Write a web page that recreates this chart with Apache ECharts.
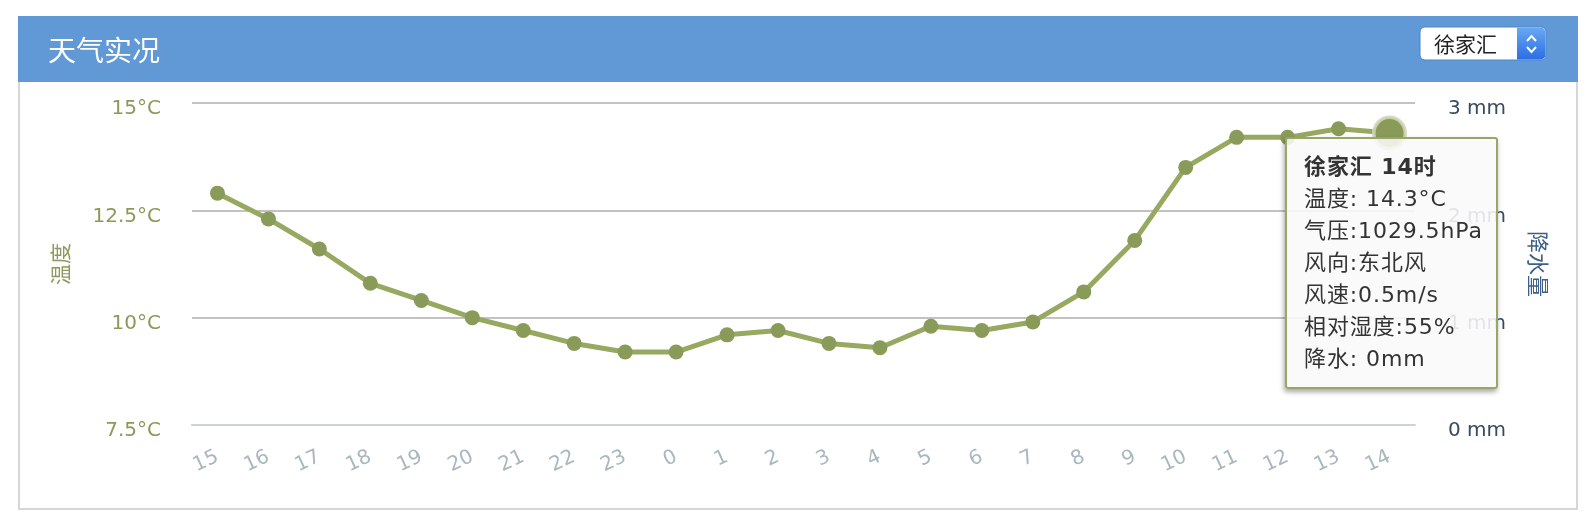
<!DOCTYPE html>
<html>
<head>
<meta charset="utf-8">
<script src="https://cdn.jsdelivr.net/npm/echarts@6/dist/echarts.min.js"></script>
<style>
html,body{margin:0;padding:0;background:#fff;}
#chart{width:1594px;height:526px;}
</style>
</head>
<body>
<div id="chart"></div>
<script>
// ---- data ----
const hours = ['15','16','17','18','19','20','21','22','23','0','1','2','3','4','5','6','7','8','9','10','11','12','13','14'];
const temperature = [12.9,12.3,11.6,10.8,10.4,10.0,9.7,9.4,9.2,9.2,9.6,9.7,9.4,9.3,9.8,9.7,9.9,10.6,11.8,13.5,14.2,14.2,14.4,14.3];
const precipitation = [0,0,0,0,0,0,0,0,0,0,0,0,0,0,0,0,0,0,0,0,0,0,0,0];
const tempTicks = [7.5, 10, 12.5, 15];
const rainTicks = [0, 1, 2, 3];
const station = '徐家汇';
const pageTitle = '天气实况';
// details shown in the tooltip for the last hour (14时)
const lastHourInfo = { pressure: '1029.5hPa', windDir: '东北风', windSpeed: '0.5m/s', humidity: '55%' };

const OLIVE = '#8a9a58';
const FONT = '"DejaVu Sans","Noto Sans CJK SC",sans-serif';

const chart = echarts.init(document.getElementById('chart'));

const fmtTemp = v => '{a|' + (v % 1 === 0 ? v.toFixed(0) : String(v)) + '°C}';

const option = {
  animation: false,
  backgroundColor: '#fff',
  grid: { left: 192, right: 179, top: 103, bottom: 101, containLabel: false },
  tooltip: {
    trigger: 'item',
    triggerOn: 'none',
    alwaysShowContent: true,
    backgroundColor: 'rgba(249,249,249,0.88)',
    borderColor: '#98a668',
    borderWidth: 2,
    borderRadius: 3,
    padding: [12, 13, 12, 17],
    textStyle: { color: '#333', fontSize: 22, fontFamily: FONT },
    extraCssText: 'box-shadow:-1px 3px 5px rgba(0,0,0,0.35);',
    position: function (point) { return [point[0] - 105, point[1] + 4]; },
    formatter: function (p) {
      const i = p.dataIndex;
      const line = s => '<div style="line-height:32px;letter-spacing:0.9px;white-space:nowrap;">' + s + '</div>';
      return line('<b>' + station + ' ' + hours[i] + '时</b>') +
        line('温度: ' + temperature[i] + '°C') +
        line('气压:' + lastHourInfo.pressure) +
        line('风向:' + lastHourInfo.windDir) +
        line('风速:' + lastHourInfo.windSpeed) +
        line('相对湿度:' + lastHourInfo.humidity) +
        line('降水: ' + precipitation[i] + 'mm');
    }
  },
  xAxis: {
    type: 'category',
    data: hours,
    boundaryGap: true,
    axisLine: { lineStyle: { color: '#cdd3d6', width: 2 } },
    axisTick: { alignWithLabel: true, length: 18, lineStyle: { color: '#cdd3d6', width: 2 } },
    axisLabel: { rotate: 25, margin: 31, color: '#aab7be', fontSize: 20, fontFamily: FONT, interval: 0 },
    splitLine: { show: false }
  },
  yAxis: [
    {
      type: 'value',
      min: tempTicks[0],
      max: tempTicks[tempTicks.length - 1],
      interval: tempTicks[1] - tempTicks[0],
      name: '温度',
      nameLocation: 'middle',
      nameRotate: 90,
      nameGap: 119,
      nameTextStyle: { color: OLIVE, fontSize: 21, fontFamily: FONT },
      axisLine: { show: false },
      axisTick: { show: false },
      axisLabel: {
        margin: 31, formatter: fmtTemp,
        rich: { a: { color: OLIVE, fontSize: 20, fontFamily: FONT, padding: [12, 0, 0, 0] } }
      },
      splitLine: { lineStyle: { color: '#c2c2c2', width: 2 } }
    },
    {
      type: 'value',
      min: rainTicks[0],
      max: rainTicks[rainTicks.length - 1],
      interval: rainTicks[1] - rainTicks[0],
      name: '降水量',
      nameLocation: 'middle',
      nameRotate: -90,
      nameGap: 110,
      nameTextStyle: { color: '#3f5f86', fontSize: 22, fontFamily: FONT },
      axisLine: { show: false },
      axisTick: { show: false },
      axisLabel: {
        margin: 33, formatter: v => '{a|' + v + ' mm}',
        rich: { a: { color: '#364a60', fontSize: 20, fontFamily: FONT, padding: [12, 0, 0, 0] } }
      },
      splitLine: { show: false }
    }
  ],
  series: [
    {
      name: '降水',
      type: 'bar',
      yAxisIndex: 1,
      data: precipitation,
      itemStyle: { color: '#6198d6' },
      tooltip: { show: false },
      silent: true
    },
    {
      name: '温度',
      type: 'line',
      yAxisIndex: 0,
      data: temperature,
      symbol: 'circle',
      symbolSize: 15,
      lineStyle: { color: OLIVE, width: 5 },
      itemStyle: { color: OLIVE },
      emphasis: {
        scale: 2.1,
        itemStyle: { color: OLIVE, borderColor: 'rgba(208,214,184,0.85)', borderWidth: 3.6 }
      },
      z: 3
    }
  ],
  graphic: [
    { type: 'rect', z: -10, silent: true, shape: { x: 19, y: 17, width: 1558, height: 492 }, style: { fill: 'none', stroke: '#d6d6d6', lineWidth: 2 } },
    { type: 'rect', z: -5, silent: true, shape: { x: 18, y: 16, width: 1560, height: 66 }, style: { fill: '#6198d6' } },
    { type: 'text', silent: true, x: 48, y: 50, style: { text: pageTitle, fill: '#fff', font: '28px "Noto Sans CJK SC",sans-serif', verticalAlign: 'middle' } },
    { type: 'rect', silent: true, shape: { x: 1420, y: 27, width: 126, height: 33, r: 5 }, style: { fill: '#fff', stroke: '#4f87c6', lineWidth: 1 } },
    { type: 'rect', silent: true, shape: { x: 1517, y: 27.5, width: 28.5, height: 32, r: [0, 5, 5, 0] },
      style: { fill: new echarts.graphic.LinearGradient(0, 0, 0, 1, [{ offset: 0, color: '#6aa8f5' }, { offset: 1, color: '#2b6ee2' }]) } },
    { type: 'polyline', silent: true, shape: { points: [[1527, 41], [1531.5, 36], [1536, 41]] }, style: { stroke: '#fff', lineWidth: 2, fill: 'none' } },
    { type: 'polyline', silent: true, shape: { points: [[1527, 47], [1531.5, 52], [1536, 47]] }, style: { stroke: '#fff', lineWidth: 2, fill: 'none' } },
    { type: 'text', silent: true, x: 1434, y: 44, style: { text: station, fill: '#222', font: '21px "Noto Sans CJK SC",sans-serif', verticalAlign: 'middle' } }
  ]
};

chart.setOption(option);
const last = temperature.length - 1;
chart.dispatchAction({ type: 'highlight', seriesIndex: 1, dataIndex: last });
chart.dispatchAction({ type: 'showTip', seriesIndex: 1, dataIndex: last });
</script>
</body>
</html>
